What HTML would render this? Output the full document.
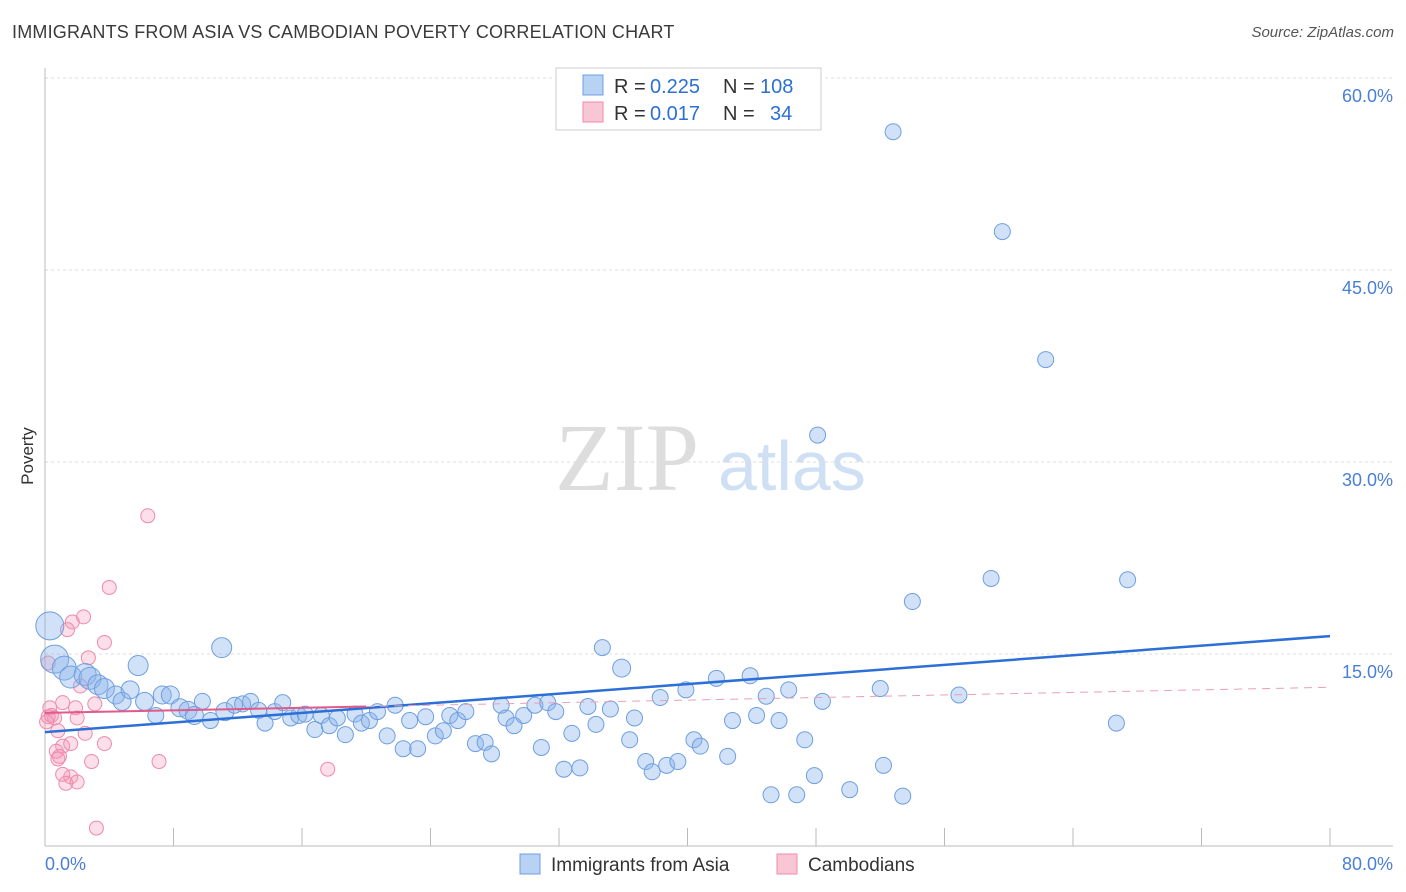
<!DOCTYPE html>
<html><head><meta charset="utf-8">
<style>
body{margin:0;background:#fff;font-family:"Liberation Sans",sans-serif;}
#wrap{position:relative;width:1406px;height:892px;overflow:hidden;}
.title{position:absolute;left:12px;top:22px;font-size:18px;color:#3a3a3a;letter-spacing:0.2px;}
.source{position:absolute;right:12px;top:24px;font-size:15px;color:#555;font-style:italic;}
</style></head>
<body>
<div id="wrap">
<div class="title">IMMIGRANTS FROM ASIA VS CAMBODIAN POVERTY CORRELATION CHART</div>
<div class="source">Source: ZipAtlas.com</div>
<svg id="svg" width="1406" height="892" style="position:absolute;left:0;top:0"></svg>
</div>
<script>
const yTicks=[15,30,45,60];
const yTickLabels=["15.0%","30.0%","45.0%","60.0%"];
const xEndLabels=["0.0%","80.0%"];
const asiaX=[52.8,59.6,62.3,48.1,58.9,67.4,54.0,34.7,35.9,11.0,5.8,0.3,0.6,1.2,1.6,2.5,2.8,3.3,3.7,4.4,4.8,5.3,6.2,6.9,7.3,7.8,8.4,8.9,9.3,9.8,10.3,11.2,11.8,12.3,12.8,13.3,13.7,14.3,14.8,15.3,15.8,16.2,16.8,17.2,17.7,18.2,18.7,19.3,19.7,20.2,20.7,21.3,21.8,22.3,22.7,23.2,23.7,24.3,24.8,25.2,25.7,26.2,26.8,27.4,27.8,28.4,28.7,29.2,29.8,30.5,30.9,31.3,31.8,32.3,32.8,33.3,33.8,34.3,35.2,36.4,36.7,37.4,37.8,38.3,38.7,39.4,39.9,40.4,40.8,41.8,42.5,42.8,43.9,44.3,44.9,45.2,45.7,46.3,46.8,47.3,47.9,48.4,50.1,52.0,52.2,53.4,56.9,66.7];
const asiaY=[55.8,48.0,38.0,32.1,20.9,20.8,19.1,15.5,13.9,15.5,14.1,17.2,14.6,13.9,13.2,13.4,13.1,12.6,12.3,11.8,11.3,12.2,11.3,10.2,11.8,11.8,10.8,10.6,10.2,11.3,9.8,10.5,11.0,11.1,11.3,10.6,9.6,10.5,11.2,10.0,10.2,10.3,9.1,10.2,9.4,10.0,8.7,10.3,9.6,9.8,10.5,8.6,11.0,7.6,9.8,7.6,10.1,8.6,9.0,10.2,9.8,10.5,8.0,8.1,7.2,11.0,10.0,9.4,10.2,11.0,7.7,11.2,10.5,6.0,8.8,6.1,10.9,9.5,10.7,8.3,10.0,6.6,5.8,11.6,6.3,6.6,12.2,8.3,7.8,13.1,7.0,9.8,13.3,10.2,11.7,4.0,9.8,12.2,4.0,8.3,5.5,11.3,4.4,12.3,6.3,3.9,11.8,9.6];
const asiaR=[8,8,8,8,8,8,8,8,9,10,10,14,14,12,11,11,11,10,10,9,9,9,9,8,9,9,9,9,9,8,8,9,8,8,8,8,8,8,8,8,8,8,8,8,8,8,8,8,8,8,8,8,8,8,8,8,8,8,8,8,8,8,8,8,8,8,8,8,8,8,8,8,8,8,8,8,8,8,8,8,8,8,8,8,8,8,8,8,8,8,8,8,8,8,8,8,8,8,8,8,8,8,8,8,8,8,8,8];
const cambX=[6.4,4.0,2.4,1.7,1.4,3.7,2.7,0.3,0.2,0.4,0.6,1.9,2.0,0.8,2.5,1.1,3.7,1.6,0.7,0.9,2.9,7.1,17.6,1.6,1.1,1.3,2.0,3.2,0.8,1.1,0.2,2.2,0.1,3.1];
const cambY=[25.8,20.2,17.9,17.5,16.9,15.9,14.7,10.8,10.1,10.2,10.0,10.8,10.0,9.0,8.8,7.8,8.0,8.0,7.4,7.0,6.6,6.6,6.0,5.4,5.6,4.9,5.0,1.4,6.8,11.2,14.3,12.5,9.7,11.1];
const trendAsia=[8.9,16.4];
const trendCamb=[10.4,12.4];
const NS="http://www.w3.org/2000/svg";
const svg=document.getElementById('svg');
const X0=45,X1=1330,Y0=846,PX=(X1-X0)/80,PY=192/15;
function sx(v){return X0+v*PX;}
function sy(v){return Y0-v*PY;}
function mk(t,a,p){const e=document.createElementNS(NS,t);for(const k in a)e.setAttribute(k,a[k]);(p||svg).appendChild(e);return e;}
const wm=mk('text',{x:555,y:490,'font-size':96,fill:'#ddd','font-family':'Liberation Serif, serif'});wm.textContent='ZIP';


const wm2=mk('text',{x:718,y:490,'font-size':70,fill:'#cfe0f5','font-family':'Liberation Sans, sans-serif'});wm2.textContent='atlas';


yTicks.forEach((t,i)=>{
 const g=mk('line',{x1:X0,x2:1393,y1:sy(t),y2:sy(t),stroke:'#ddd','stroke-dasharray':'3,3'});
 
 
 const l=mk('text',{x:1393,y:sy(t)+24,'text-anchor':'end','font-size':18,fill:'#4a7fd6'});l.textContent=yTickLabels[i];
 
 
});
const ya=mk('line',{x1:X0,x2:X0,y1:68,y2:Y0,stroke:'#bbb'});


const xa=mk('line',{x1:X0,x2:1393,y1:Y0,y2:Y0,stroke:'#bbb'});


for(let i=0;i<=10;i++){const t=mk('line',{x1:sx(i*8),x2:sx(i*8),y1:Y0,y2:Y0-18,stroke:'#bbb'});
 
 }
const xl0=mk('text',{x:45,y:870,'font-size':18,fill:'#4a7fd6'});xl0.textContent=xEndLabels[0];


const xl1=mk('text',{x:1393,y:870,'text-anchor':'end','font-size':18,fill:'#4a7fd6'});xl1.textContent=xEndLabels[1];


const yt=mk('text',{x:33,y:456,'font-size':17,fill:'#333','text-anchor':'middle',transform:'rotate(-90 33 456)'});yt.textContent='Poverty';


cambX.forEach((v,i)=>{const c=mk('circle',{cx:sx(v),cy:sy(cambY[i]),r:7,fill:'rgba(244,150,180,0.3)',stroke:'#ee8aab','stroke-width':1});
 
 });
asiaX.forEach((v,i)=>{const c=mk('circle',{cx:sx(v),cy:sy(asiaY[i]),r:asiaR[i],fill:'rgba(140,180,235,0.4)',stroke:'#6f9fe0','stroke-width':1});
 
 });
const ta=mk('line',{x1:sx(0),y1:sy(trendAsia[0]),x2:sx(80),y2:sy(trendAsia[1]),stroke:'#2c6fd6','stroke-width':2.5});


const cs=(trendCamb[1]-trendCamb[0])/80;
const tc=mk('line',{x1:sx(0),y1:sy(trendCamb[0]),x2:sx(20),y2:sy(trendCamb[0]+cs*20),stroke:'#e05a8a','stroke-width':2});


const td=mk('line',{x1:sx(20),y1:sy(trendCamb[0]+cs*20),x2:sx(80),y2:sy(trendCamb[1]),stroke:'#e8a0b8','stroke-width':1,'stroke-dasharray':'8,6'});


const lb=mk('rect',{x:556,y:68,width:265,height:62,fill:'#fff',stroke:'#ccc'});


[[ '#b8d2f4','#6f9fe0','0.225','108',86,760],['#f9c6d5','#ee8aab','0.017','34',113,770]].forEach(r=>{
 const s=mk('rect',{x:583,y:r[4]-11,width:20,height:20,fill:r[0],stroke:r[1]});
 
 
 const parts=[[614,'R =','#333'],[650,r[2],'#2c6fd6'],[723,'N =','#333'],[r[5],r[3],'#2c6fd6']];
 parts.forEach(p=>{
  const t=mk('text',{x:p[0],y:r[4]+7,'font-size':20,fill:p[2]});t.textContent=p[1];
  
  
 });
});
[[520,'#b8d2f4','#6f9fe0','Immigrants from Asia'],[777,'#f9c6d5','#ee8aab','Cambodians']].forEach(r=>{
 const s=mk('rect',{x:r[0],y:854,width:20,height:20,fill:r[1],stroke:r[2]});
 
 
 const t=mk('text',{x:r[0]+31,y:871,'font-size':19,fill:'#333'});t.textContent=r[3];
 
 
});
</script>
</body></html>
